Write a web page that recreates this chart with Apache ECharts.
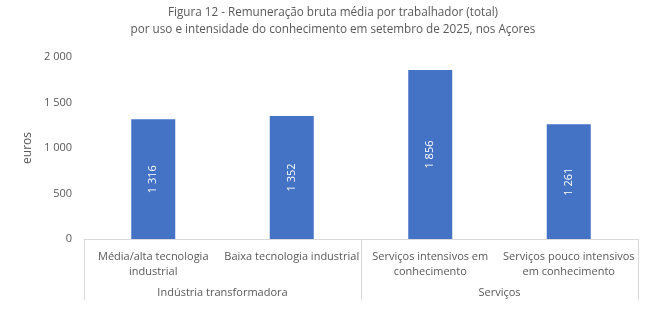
<!DOCTYPE html>
<html><head><meta charset="utf-8">
<script src="https://cdn.jsdelivr.net/npm/echarts@6/dist/echarts.min.js"></script>
<style>html,body{margin:0;padding:0;background:#fff}#c{width:666px;height:323px}</style>
</head><body><div id="c"></div>
<script>
const categories = ['Média/alta tecnologia\nindustrial', 'Baixa tecnologia industrial', 'Serviços intensivos em\nconhecimento', 'Serviços pouco intensivos\nem conhecimento'];
const groups = ['Indústria transformadora', 'Serviços'];
const values = [1316, 1352, 1856, 1261];
const yTicks = [0, 500, 1000, 1500, 2000];

const fmt = v => String(v).replace(/\B(?=(\d{3})+(?!\d))/g, ' ');
const FONT = 'Open Sans';
const GREY = '#595959';
const chart = echarts.init(document.getElementById('c'));
chart.setOption({
  animation: false,
  textStyle: { fontFamily: FONT },
  title: {
    text: 'Figura 12 - Remuneração bruta média por trabalhador (total)\npor uso e intensidade do conhecimento em setembro de 2025, nos Açores',
    left: 'center', top: -1,
    textStyle: { fontFamily: FONT, fontSize: 11.7, fontWeight: 'normal', color: GREY, lineHeight: 17 }
  },
  grid: { left: 84, right: 28, top: 57, bottom: 84 },
  xAxis: [
    {
      type: 'category', data: categories, position: 'bottom',
      axisLine: { show: true, lineStyle: { color: '#D9D9D9', width: 1 } },
      axisTick: { show: false },
      axisLabel: { color: GREY, fontSize: 11, fontFamily: FONT, margin: 10, lineHeight: 15, interval: 0 }
    },
    {
      type: 'category', data: groups, position: 'bottom', offset: 0,
      axisLine: { show: false },
      axisTick: { show: true, length: 61, inside: false, lineStyle: { color: '#D9D9D9' } },
      axisLabel: { color: GREY, fontSize: 11, fontFamily: FONT, margin: 48 }
    }
  ],
  yAxis: {
    type: 'value', min: 0, max: 2000, interval: 500,
    name: 'euros', nameLocation: 'middle', nameGap: 44, nameRotate: 90,
    nameTextStyle: { color: GREY, fontSize: 12, fontFamily: FONT },
    axisLine: { show: false }, axisTick: { show: false },
    splitLine: { show: false },
    axisLabel: { color: GREY, fontSize: 11, fontFamily: FONT, margin: 12,
      formatter: v => yTicks.includes(v) ? fmt(v) : '' }
  },
  series: [{
    type: 'bar', data: values, xAxisIndex: 0, barWidth: 44,
    itemStyle: { color: '#4472C4' },
    label: { show: true, position: 'inside', rotate: 90, color: '#fff', fontSize: 11, fontFamily: FONT,
      formatter: p => fmt(p.value) }
  }]
});
</script></body></html>
